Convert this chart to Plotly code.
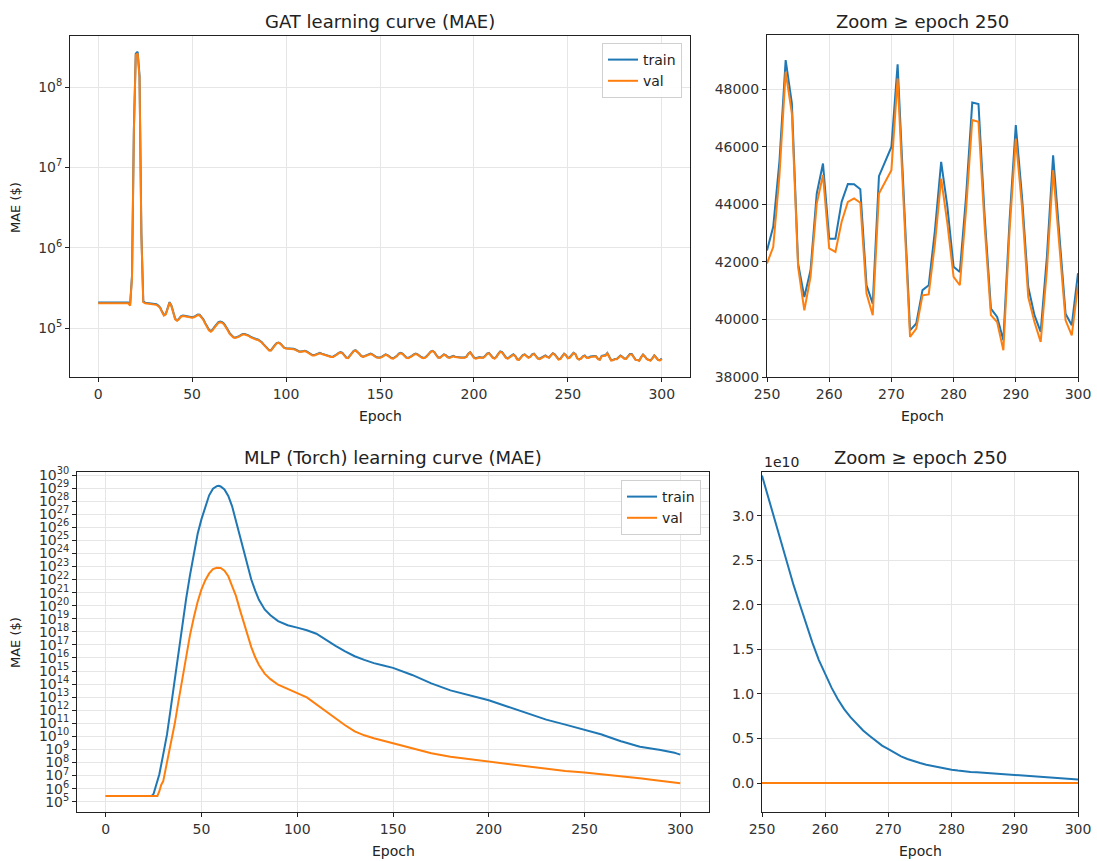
import plotly.graph_objects as go

BLUE = "#1f77b4"
ORANGE = "#ff7f0e"
FONT = "DejaVu Sans"
W, H = 1097, 861

# ---------------- GAT data (epochs 0..300) ----------------
gat_epochs = list(range(301))
gat_train = [
    2.08e5, 2.08e5, 2.08e5, 2.08e5, 2.08e5, 2.08e5, 2.08e5, 2.08e5, 2.08e5, 2.08e5,
    2.08e5, 2.08e5, 2.08e5, 2.08e5, 2.08e5, 2.08e5, 2.08e5, 1.95e5, 4.5e5, 3.0e7,
    2.6e8, 2.75e8, 1.4e8, 1.5e6, 2.15e5, 2.07e5, 2.05e5, 2.06e5, 2.05e5, 2.03e5,
    2.0e5, 1.98e5, 1.9e5, 1.8e5, 1.6e5, 1.45e5, 1.5e5, 1.85e5, 2.1e5, 1.9e5,
    1.55e5, 1.3e5, 1.25e5, 1.3e5, 1.4e5, 1.43e5, 1.42e5, 1.4e5, 1.38e5, 1.37e5,
    1.36e5, 1.38e5, 1.43e5, 1.47e5, 1.46e5, 1.38e5, 1.28e5, 1.15e5, 1.03e5, 9.5e4,
    9.2e4, 9.6e4, 1.04e5, 1.12e5, 1.18e5, 1.2e5, 1.18e5, 1.13e5, 1.05e5, 9.5e4,
    8.6e4, 8.0e4, 7.7e4, 7.6e4, 7.7e4, 7.9e4, 8.2e4, 8.4e4, 8.4e4, 8.3e4,
    8.1e4, 7.8e4, 7.6e4, 7.4e4, 7.3e4, 7.2e4, 7.0e4, 6.7e4, 6.3e4, 5.9e4,
    5.5e4, 5.3e4, 5.3e4, 5.6e4, 6.1e4, 6.5e4, 6.6e4, 6.4e4, 6.0e4, 5.7e4,
    5.6e4, 5.6e4, 5.5e4, 5.5e4, 5.5e4, 5.4e4, 5.2e4, 5.1e4, 5.1e4, 5.2e4,
    5.2e4, 5.1e4, 4.9e4, 4.7e4, 4.6e4, 4.6e4, 4.7e4, 4.8e4, 4.9e4, 4.8e4,
    4.7e4, 4.6e4, 4.5e4, 4.4e4, 4.4e4, 4.4e4, 4.5e4, 4.7e4, 4.9e4, 5.0e4,
    4.9e4, 4.6e4, 4.3e4, 4.25e4, 4.5e4, 4.9e4, 5.2e4, 5.3e4, 5.1e4, 4.8e4,
    4.5e4, 4.4e4, 4.5e4, 4.6e4, 4.7e4, 4.8e4, 4.7e4, 4.5e4, 4.35e4, 4.3e4,
    4.3e4, 4.4e4, 4.6e4, 4.7e4, 4.6e4, 4.4e4, 4.25e4, 4.2e4, 4.3e4, 4.5e4,
    4.8e4, 4.9e4, 4.8e4, 4.5e4, 4.3e4, 4.25e4, 4.35e4, 4.5e4, 4.7e4, 4.8e4,
    4.7e4, 4.5e4, 4.35e4, 4.25e4, 4.3e4, 4.5e4, 4.8e4, 5.1e4, 5.2e4, 5.0e4,
    4.6e4, 4.3e4, 4.3e4, 4.5e4, 4.7e4, 4.6e4, 4.35e4, 4.3e4, 4.45e4, 4.5e4,
    4.4e4, 4.35e4, 4.3e4, 4.3e4, 4.3e4, 4.3e4, 4.4e4, 4.8e4, 5.0e4, 4.7e4,
    4.3e4, 4.2e4, 4.3e4, 4.35e4, 4.3e4, 4.3e4, 4.5e4, 4.8e4, 4.9e4, 4.6e4,
    4.3e4, 4.2e4, 4.4e4, 4.8e4, 5.1e4, 5.0e4, 4.6e4, 4.3e4, 4.2e4, 4.35e4,
    4.6e4, 4.7e4, 4.5e4, 4.1e4, 4.05e4, 4.3e4, 4.6e4, 4.7e4, 4.5e4, 4.3e4,
    4.4e4, 4.7e4, 4.8e4, 4.5e4, 4.2e4, 4.15e4, 4.3e4, 4.5e4, 4.55e4, 4.4e4,
    4.3e4, 4.6e4, 4.85e4, 4.7e4, 4.3e4, 4.1e4, 4.15e4, 4.5e4, 4.8e4, 4.6e4,
    42400, 43220, 45500, 49020, 47510, 41940, 40780, 41710, 44380, 45420,
    42810, 42810, 44090, 44710, 44700, 44530, 41190, 40550, 44980, 45480,
    46000, 48870, 44200, 39620, 39860, 41020, 41190, 43100, 45480, 43920,
    41830, 41650, 44260, 47540, 47490, 43570, 40380, 40090, 39280, 43450,
    46760, 44260, 41130, 40150, 39570, 42180, 45710, 43100, 40200, 39800,
    41610,
]
gat_val = [
    2.03e5, 2.03e5, 2.03e5, 2.03e5, 2.03e5, 2.03e5, 2.03e5, 2.03e5, 2.03e5, 2.03e5,
    2.03e5, 2.03e5, 2.03e5, 2.03e5, 2.03e5, 2.03e5, 2.03e5, 1.9e5, 4.2e5, 2.8e7,
    2.5e8, 2.6e8, 1.3e8, 1.4e6, 2.1e5, 2.03e5, 2.01e5, 2.02e5, 2.01e5, 1.99e5,
    1.96e5, 1.94e5, 1.87e5, 1.77e5, 1.58e5, 1.43e5, 1.48e5, 1.82e5, 2.07e5, 1.87e5,
    1.53e5, 1.28e5, 1.23e5, 1.28e5, 1.38e5, 1.41e5, 1.4e5, 1.38e5, 1.36e5, 1.35e5,
    1.34e5, 1.36e5, 1.41e5, 1.45e5, 1.44e5, 1.36e5, 1.26e5, 1.13e5, 1.01e5, 9.3e4,
    9.0e4, 9.4e4, 1.02e5, 1.1e5, 1.16e5, 1.18e5, 1.16e5, 1.11e5, 1.03e5, 9.3e4,
    8.45e4, 7.9e4, 7.6e4, 7.5e4, 7.6e4, 7.8e4, 8.1e4, 8.3e4, 8.3e4, 8.2e4,
    8.0e4, 7.7e4, 7.5e4, 7.3e4, 7.2e4, 7.1e4, 6.9e4, 6.6e4, 6.2e4, 5.8e4,
    5.45e4, 5.25e4, 5.25e4, 5.55e4, 6.05e4, 6.45e4, 6.55e4, 6.35e4, 5.95e4, 5.65e4,
    5.55e4, 5.55e4, 5.45e4, 5.45e4, 5.45e4, 5.35e4, 5.15e4, 5.05e4, 5.05e4, 5.15e4,
    5.15e4, 5.05e4, 4.85e4, 4.65e4, 4.55e4, 4.55e4, 4.65e4, 4.75e4, 4.85e4, 4.75e4,
    4.65e4, 4.55e4, 4.45e4, 4.35e4, 4.35e4, 4.35e4, 4.45e4, 4.65e4, 4.85e4, 4.95e4,
    4.85e4, 4.55e4, 4.25e4, 4.2e4, 4.45e4, 4.85e4, 5.15e4, 5.25e4, 5.05e4, 4.75e4,
    4.45e4, 4.35e4, 4.45e4, 4.55e4, 4.65e4, 4.75e4, 4.65e4, 4.45e4, 4.3e4, 4.25e4,
    4.25e4, 4.35e4, 4.55e4, 4.65e4, 4.55e4, 4.35e4, 4.2e4, 4.15e4, 4.25e4, 4.45e4,
    4.75e4, 4.85e4, 4.75e4, 4.45e4, 4.25e4, 4.2e4, 4.3e4, 4.45e4, 4.65e4, 4.75e4,
    4.65e4, 4.45e4, 4.3e4, 4.2e4, 4.25e4, 4.45e4, 4.75e4, 5.05e4, 5.15e4, 4.95e4,
    4.55e4, 4.25e4, 4.25e4, 4.45e4, 4.65e4, 4.55e4, 4.3e4, 4.25e4, 4.4e4, 4.45e4,
    4.35e4, 4.3e4, 4.25e4, 4.25e4, 4.25e4, 4.25e4, 4.35e4, 4.75e4, 4.95e4, 4.65e4,
    4.25e4, 4.15e4, 4.25e4, 4.3e4, 4.25e4, 4.25e4, 4.45e4, 4.75e4, 4.85e4, 4.55e4,
    4.25e4, 4.15e4, 4.35e4, 4.75e4, 5.05e4, 4.95e4, 4.55e4, 4.25e4, 4.15e4, 4.3e4,
    4.55e4, 4.65e4, 4.45e4, 4.05e4, 4.0e4, 4.25e4, 4.55e4, 4.65e4, 4.45e4, 4.25e4,
    4.35e4, 4.65e4, 4.75e4, 4.45e4, 4.15e4, 4.1e4, 4.25e4, 4.45e4, 4.5e4, 4.35e4,
    4.25e4, 4.55e4, 4.8e4, 4.65e4, 4.25e4, 4.05e4, 4.1e4, 4.45e4, 4.75e4, 4.55e4,
    41950, 42520, 45000, 48610, 47160, 41830, 40320, 41480, 44030, 45020,
    42470, 42350, 43400, 44090, 44210, 44060, 40900, 40150, 44380, 44790,
    45190, 48380, 43800, 39390, 39680, 40840, 40870, 42640, 44900, 43340,
    41480, 41190, 43800, 46930, 46870, 43220, 40150, 39910, 38930, 43100,
    46290, 43920, 40780, 39910, 39220, 41710, 45190, 42640, 39970, 39450,
    41190,
]

# ---------------- MLP (Torch) data ----------------
mlp_train_epochs = [0, 5, 10, 15, 20, 24, 25, 26, 27, 28,
                    30, 32, 34, 36, 38, 40, 42, 44, 46, 48,
                    50, 52, 54, 56, 58, 59, 60, 62, 64, 66,
                    68, 70, 72, 74, 76, 78, 80, 83, 86, 90,
                    95, 100, 105, 110, 115, 120, 125, 130, 135, 140,
                    145, 150, 160, 170, 180, 190, 200, 210, 220, 230,
                    240, 245] + list(range(250, 301))
mlp_train = [
    2.75e5, 2.75e5, 2.75e5, 2.75e5, 2.75e5, 2.75e5, 4.0e5, 1.26e6, 3.2e6, 1.26e7,
    4.0e8, 1.41e10, 1.58e12, 2.0e14, 2.5e16, 4.0e18, 3.5e20, 2.2e22, 1.0e24, 3.2e25,
    4.2e26, 4.0e27, 2.8e28, 8.9e28, 1.41e29, 1.51e29, 1.32e29, 7.9e28, 2.5e28, 4.0e27,
    3.2e26, 2.2e25, 1.58e24, 1.12e23, 1.0e22, 1.5e21, 2.8e20, 5.2e19, 1.86e19, 6.6e18,
    3.2e18, 2.1e18, 1.32e18, 7.1e17, 2.3e17, 8.3e16, 3.2e16, 1.35e16, 7.1e15, 4.0e15,
    2.6e15, 1.74e15, 5.0e14, 1.12e14, 3.3e13, 1.38e13, 5.8e12, 1.86e12, 6.2e11, 1.9e11,
    7.9e10, 5.0e10,
    3.45e10, 3.2e10, 2.95e10, 2.7e10, 2.45e10, 2.22e10, 2.0e10, 1.78e10, 1.57e10, 1.38e10,
    1.22e10, 1.07e10, 0.94e10, 0.83e10, 0.74e10, 0.66e10, 0.59e10, 0.53e10, 0.47e10, 0.42e10,
    0.38e10, 0.34e10, 0.30e10, 0.27e10, 0.245e10, 0.225e10, 0.205e10, 0.19e10, 0.175e10, 0.16e10,
    0.15e10, 0.14e10, 0.13e10, 0.125e10, 0.12e10, 0.115e10, 0.11e10, 0.105e10, 0.10e10, 0.095e10,
    0.09e10, 0.085e10, 0.08e10, 0.075e10, 0.07e10, 0.065e10, 0.06e10, 0.055e10, 0.05e10, 0.045e10,
    0.04e10,
]
mlp_val_epochs = [0, 5, 10, 15, 20, 25, 27, 28, 29, 30,
                  32, 34, 36, 38, 40, 42, 44, 46, 48, 50,
                  52, 54, 56, 58, 59, 60, 62, 64, 66, 68,
                  70, 72, 74, 76, 78, 80, 83, 86, 90, 95,
                  100, 105, 110, 115, 120, 125, 130, 135, 140, 145,
                  150, 160, 170, 180, 190, 200, 210, 220, 230, 240,
                  250, 255, 260, 265, 270, 275, 280, 285, 290, 295,
                  300]
mlp_val = [
    2.75e5, 2.75e5, 2.75e5, 2.75e5, 2.75e5, 2.75e5, 2.75e5, 6.3e5, 2.0e6, 3.6e6,
    8.7e7, 2.0e9, 8.7e10, 5.0e12, 2.95e14, 1.58e16, 5.6e17, 1.26e19, 2.0e20, 1.78e21,
    8.9e21, 2.95e22, 6.3e22, 7.9e22, 8.1e22, 7.6e22, 4.8e22, 1.78e22, 3.2e21, 5.6e20,
    5.2e19, 5.5e18, 5.6e17, 6.8e16, 1.17e16, 2.9e15, 6.3e14, 2.4e14, 8.9e13, 4.0e13,
    2.0e13, 9.5e12, 2.8e12, 7.9e11, 2.2e11, 7.1e10, 2.4e10, 1.2e10, 7.1e9, 4.5e9,
    3.0e9, 1.17e9, 5.0e8, 2.75e8, 1.78e8, 1.17e8, 7.6e7, 4.9e7, 3.1e7, 2.2e7,
    1.7e7, 1.45e7, 1.23e7, 1.07e7, 8.9e6, 7.6e6, 6.0e6, 4.8e6, 3.8e6, 3.2e6,
    2.6e6,
]

gat_ticks = [1e5, 1e6, 1e7, 1e8]
gat_ticktext = ["10<sup>5</sup>", "10<sup>6</sup>", "10<sup>7</sup>", "10<sup>8</sup>"]
mlp_decades = list(range(5, 31))
mlp_ticks = [10.0 ** d for d in mlp_decades]
mlp_ticktext = ["10<sup>%d</sup>" % d for d in mlp_decades]
epoch_ticks = [0, 50, 100, 150, 200, 250, 300]
zoom_ticks = [250, 260, 270, 280, 290, 300]
gat_zoom_ticks = [38000, 40000, 42000, 44000, 46000, 48000]
gat_zoom_ticktext = ["38000", "40000", "42000", "44000", "46000", "48000"]
mlp_zoom_ticks = [0, 0.5e10, 1.0e10, 1.5e10, 2.0e10, 2.5e10, 3.0e10]
mlp_zoom_ticktext = ["0.0", "0.5", "1.0", "1.5", "2.0", "2.5", "3.0"]

# zoom subsets (epoch >= 250)
gz_x = [e for e in gat_epochs if e >= 250]
gz_tr = [v for e, v in zip(gat_epochs, gat_train) if e >= 250]
gz_va = [v for e, v in zip(gat_epochs, gat_val) if e >= 250]
mz_tr = [(e, v) for e, v in zip(mlp_train_epochs, mlp_train) if e >= 250]
mz_va = [(e, v) for e, v in zip(mlp_val_epochs, mlp_val) if e >= 250]

fig = go.Figure()
LW = 2
fig.add_trace(go.Scatter(x=gat_epochs, y=gat_train, mode="lines", name="train",
                         line=dict(color=BLUE, width=LW), xaxis="x", yaxis="y", legend="legend"))
fig.add_trace(go.Scatter(x=gat_epochs, y=gat_val, mode="lines", name="val",
                         line=dict(color=ORANGE, width=LW), xaxis="x", yaxis="y", legend="legend"))
fig.add_trace(go.Scatter(x=gz_x, y=gz_tr, mode="lines", showlegend=False,
                         line=dict(color=BLUE, width=LW), xaxis="x2", yaxis="y2"))
fig.add_trace(go.Scatter(x=gz_x, y=gz_va, mode="lines", showlegend=False,
                         line=dict(color=ORANGE, width=LW), xaxis="x2", yaxis="y2"))
fig.add_trace(go.Scatter(x=mlp_train_epochs, y=mlp_train, mode="lines", name="train",
                         line=dict(color=BLUE, width=LW), xaxis="x3", yaxis="y3", legend="legend2"))
fig.add_trace(go.Scatter(x=mlp_val_epochs, y=mlp_val, mode="lines", name="val",
                         line=dict(color=ORANGE, width=LW), xaxis="x3", yaxis="y3", legend="legend2"))
fig.add_trace(go.Scatter(x=[p[0] for p in mz_tr], y=[p[1] for p in mz_tr], mode="lines",
                         showlegend=False, line=dict(color=BLUE, width=LW), xaxis="x4", yaxis="y4"))
fig.add_trace(go.Scatter(x=[p[0] for p in mz_va], y=[p[1] for p in mz_va], mode="lines",
                         showlegend=False, line=dict(color=ORANGE, width=LW), xaxis="x4", yaxis="y4"))


def px_x(a, b):
    return [a / W, b / W]


def px_y(top, bottom):
    return [1 - bottom / H, 1 - top / H]


common = dict(showline=True, linecolor="#222", linewidth=1, mirror=True,
              ticks="outside", ticklen=4, tickcolor="#222", tickwidth=1,
              showgrid=True, gridcolor="#e6e6e6", gridwidth=1, zeroline=False,
              automargin=False,
              tickfont=dict(family=FONT, size=14, color="#333"))

fig.update_layout(
    width=W, height=H,
    margin=dict(l=0, r=0, t=0, b=0),
    paper_bgcolor="white", plot_bgcolor="white",
    font=dict(family=FONT, size=14, color="#222"),
    xaxis=dict(common, domain=px_x(70, 690), range=[-15, 315], tickvals=epoch_ticks, anchor="y"),
    yaxis=dict(common, domain=px_y(36, 377), type="log", range=[4.39, 8.635],
               tickvals=gat_ticks, ticktext=gat_ticktext, anchor="x"),
    xaxis2=dict(common, domain=px_x(767, 1078), range=[250, 300], tickvals=zoom_ticks, anchor="y2"),
    yaxis2=dict(common, domain=px_y(35, 377), range=[38000, 49890], tickvals=gat_zoom_ticks,
                ticktext=gat_zoom_ticktext, anchor="x2"),
    xaxis3=dict(common, domain=px_x(77, 709), range=[-15, 315], tickvals=epoch_ticks, anchor="y3"),
    yaxis3=dict(common, domain=px_y(472, 812), type="log", range=[4.21, 30.23],
                tickvals=mlp_ticks, ticktext=mlp_ticktext, anchor="x3"),
    xaxis4=dict(common, domain=px_x(762, 1078), range=[250, 300], tickvals=zoom_ticks, anchor="y4"),
    yaxis4=dict(common, domain=px_y(472, 812), range=[-0.325e10, 3.49e10],
                tickvals=mlp_zoom_ticks, ticktext=mlp_zoom_ticktext, anchor="x4"),
    legend=dict(x=682 / W, y=1 - 43 / H, xanchor="right", yanchor="top",
                bgcolor="rgba(255,255,255,0.9)", bordercolor="#d0d0d0", borderwidth=1,
                font=dict(family=FONT, size=14, color="#222")),
    legend2=dict(x=701 / W, y=1 - 480 / H, xanchor="right", yanchor="top",
                 bgcolor="rgba(255,255,255,0.9)", bordercolor="#d0d0d0", borderwidth=1,
                 font=dict(family=FONT, size=14, color="#222")),
)


def ann(text, x, y, size=14, angle=0, xanchor="center"):
    fig.add_annotation(text=text, x=x / W, y=1 - y / H, xref="paper", yref="paper",
                       showarrow=False, textangle=angle, xanchor=xanchor, yanchor="middle",
                       font=dict(family=FONT, size=size, color="#222"))


ann("GAT learning curve (MAE)", 380, 21, 18)
ann("Zoom ≥ epoch 250", 922, 21, 18)
ann("MLP (Torch) learning curve (MAE)", 393, 457, 18)
ann("Zoom ≥ epoch 250", 920, 457, 18)
ann("Epoch", 380, 416)
ann("Epoch", 922, 416)
ann("Epoch", 393, 851)
ann("Epoch", 920, 851)
ann("MAE ($)", 15, 208, 13, -90)
ann("MAE ($)", 15, 643, 13, -90)
ann("1e10", 762, 462, 14, 0, "left")

fig.write_html("out.html", config={"displayModeBar": False},
               post_script="document.body.style.margin='0';document.body.style.overflow='hidden';")
